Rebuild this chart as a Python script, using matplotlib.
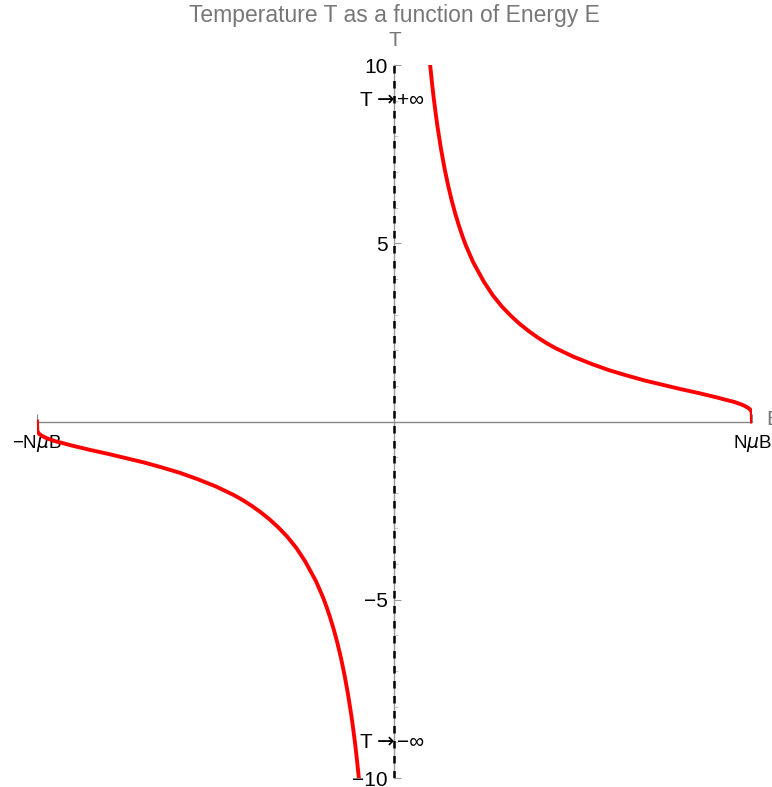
import matplotlib
matplotlib.use("Agg")
import matplotlib.pyplot as plt

plt.rcParams['font.family'] = ['Liberation Sans', 'DejaVu Sans']

# positive branch (E > 0, T > 0)
E_pos = [0.0997, 0.105, 0.11, 0.115, 0.12, 0.13, 0.14, 0.15, 0.16, 0.17,
         0.18, 0.19, 0.20, 0.22, 0.25, 0.275, 0.30, 0.325, 0.35, 0.375,
         0.40, 0.425, 0.45, 0.475, 0.50, 0.55, 0.60, 0.65, 0.70, 0.75, 0.80,
         0.85, 0.90, 0.93, 0.95, 0.97, 0.98, 0.99, 0.995, 0.999, 1.0]
T_pos = [10.0, 9.49, 9.05, 8.66, 8.29, 7.65, 7.10, 6.62, 6.20, 5.83,
         5.50, 5.20, 4.93, 4.47, 3.92, 3.54, 3.23, 2.97, 2.74, 2.54,
         2.36, 2.20, 2.06, 1.94, 1.82, 1.62, 1.44, 1.29, 1.15, 1.03, 0.91,
         0.80, 0.68, 0.60, 0.55, 0.48, 0.435, 0.378, 0.334, 0.263, 0.0]
# negative branch (E < 0, T < 0)
E_neg = [-1.0, -0.999, -0.995, -0.99, -0.98, -0.97, -0.95, -0.93, -0.90,
         -0.85, -0.80, -0.75, -0.70, -0.65, -0.60, -0.55, -0.50, -0.475,
         -0.45, -0.425, -0.40, -0.375, -0.35, -0.325, -0.30, -0.275, -0.25,
         -0.22, -0.20, -0.19, -0.18, -0.17, -0.16, -0.15, -0.14, -0.13,
         -0.12, -0.115, -0.11, -0.105, -0.0997]
T_neg = [0.0, -0.263, -0.334, -0.378, -0.435, -0.48, -0.55, -0.60, -0.68,
         -0.80, -0.91, -1.03, -1.15, -1.29, -1.44, -1.62, -1.82, -1.94,
         -2.06, -2.20, -2.36, -2.54, -2.74, -2.97, -3.23, -3.54, -3.92,
         -4.47, -4.93, -5.20, -5.50, -5.83, -6.20, -6.62, -7.10, -7.65,
         -8.29, -8.66, -9.05, -9.49, -10.0]

xticks = [-1, 1]
xticklabels = ['\u2212N$\\mu$B', 'N$\\mu$B']
yticks = [-10, -5, 5, 10]
yticklabels = ['\u221210', '\u22125', '5', '10']
yminor = [-9, -8, -7, -6, -4, -3, -2, -1, 1, 2, 3, 4, 6, 7, 8, 9]

fig = plt.figure(figsize=(7.72, 7.87), dpi=100)
ax = fig.add_axes([0.0479, 0.0114, 0.9262, 0.9060])

ax.plot(E_pos, T_pos, color='red', lw=2.8, solid_joinstyle='round', zorder=4)
ax.plot(E_neg, T_neg, color='red', lw=2.8, solid_joinstyle='round', zorder=4)
ax.axvline(0, color='black', lw=1.8, dashes=(3.0, 3.0), zorder=3)

ax.set_xlim(-1, 1)
ax.set_ylim(-10, 10)

for s in ['top', 'right']:
    ax.spines[s].set_visible(False)
ax.spines['left'].set_position(('data', 0))
ax.spines['bottom'].set_position(('data', 0))
ax.spines['left'].set_color('#999999')
ax.spines['bottom'].set_color('#888888')
ax.spines['left'].set_linewidth(1.0)
ax.spines['bottom'].set_linewidth(1.0)

ax.set_xticks(xticks)
ax.set_xticklabels(xticklabels, fontsize=13.5)
ax.set_yticks(yticks)
ax.set_yticklabels(yticklabels, fontsize=15)
ax.set_yticks(yminor, minor=True)
ax.tick_params(axis='x', direction='in', length=6, color='#888888', pad=8)
ax.tick_params(axis='y', which='major', direction='in', length=5,
               color='#999999', pad=5)
ax.tick_params(axis='y', which='minor', direction='in', length=3,
               color='#bbbbbb')

for yv, lab in [(9.0, '+\u221e'), (-9.0, '\u2212\u221e')]:
    ax.text(0.0, yv, '\u2192', ha='right', va='center', fontsize=15,
            family='DejaVu Sans')
    ax.annotate('T', (0, yv), xytext=(-16, 0), textcoords='offset points',
                ha='right', va='center', fontsize=15)
    ax.annotate(lab, (0, yv), xytext=(2, 0), textcoords='offset points',
                ha='left', va='center', fontsize=15)

ax.text(0, 10.42, 'T', ha='center', va='bottom', fontsize=15, color='#777777')
ax.text(1.04, 0.05, 'E', ha='left', va='center', fontsize=15, color='#777777',
        clip_on=False)
ax.set_title('Temperature T as a function of Energy E', fontsize=16.5,
             color='#777777', pad=31)

fig.savefig('out.png', dpi=100)
